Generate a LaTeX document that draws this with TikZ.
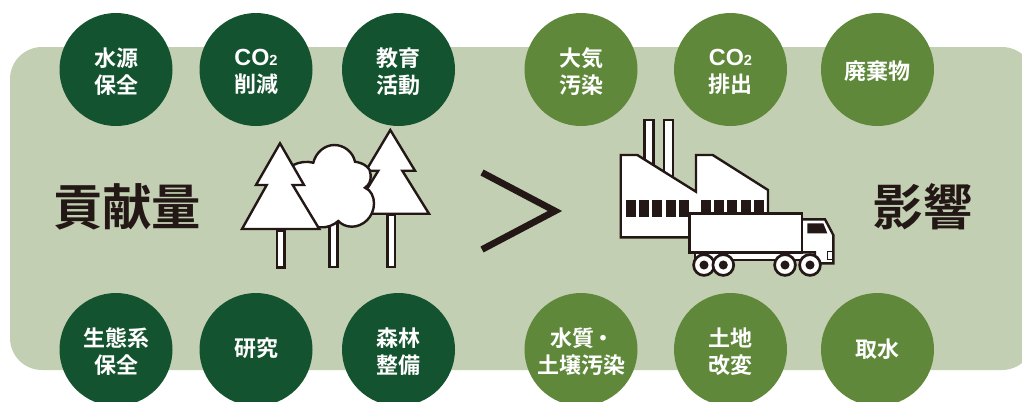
\documentclass[tikz,border=0pt]{standalone}
\usepackage{fontspec}
\setmainfont{Noto Sans CJK JP}[BoldFont={Noto Sans CJK JP Bold}]
\newfontfamily\latinf{Liberation Sans}[BoldFont={Liberation Sans Bold}]
\definecolor{panelc}{HTML}{C2CFB2}
\definecolor{darkg}{HTML}{14532F}
\definecolor{lightg}{HTML}{5F883A}
\definecolor{inkc}{HTML}{231815}
\newcommand{\cotwo}{{\latinf\fontsize{17.5}{20}\selectfont CO\raisebox{-0.3pt}{\fontsize{11}{11}\selectfont 2}}}
% #1 style, #2 name, #3 centre, #4 text drop in px, #5 text
\newcommand{\mybadge}[5]{%
  \node[#1] (#2) at #3 {};
  \node[badgetext] (#2text) at ([yshift=-#4*0.75pt]#2.center) {#5};
}
\tikzset{
  badge/.style={circle,minimum size=113*0.75pt,inner sep=0pt},
  badgetext/.style={inner sep=0pt,text=white,align=center,font=\bfseries\fontsize{16.5}{20.2}\selectfont},
  darkbadge/.style={badge,fill=darkg},
  lightbadge/.style={badge,fill=lightg},
  title/.style={text=inkc,font=\bfseries\fontsize{37}{40}\selectfont,inner sep=0pt},
  ink/.style={draw=inkc,line width=1.8pt,fill=white,line join=miter},
  thin/.style={draw=inkc,line width=1.4pt,fill=white},
  win/.style={fill=inkc},
}
\begin{document}
\begin{tikzpicture}[x=0.75pt,y=-0.75pt]
\useasboundingbox (0,0) rectangle (1022,401);
\clip (0,0) rectangle (1022,401);
\fill[panelc,rounded corners=24pt] (10,47) rectangle (1034,370);
% badges
\mybadge{darkbadge}{a1}{(116,69.5)}{2}{水源\\保全}
\mybadge{darkbadge}{a2}{(256,69.5)}{2}{\cotwo\\削減}
\mybadge{darkbadge}{a3}{(398.5,69.5)}{2}{教育\\活動}
\mybadge{lightbadge}{b1}{(581,69.5)}{2}{大気\\汚染}
\mybadge{lightbadge}{b2}{(730.5,69.5)}{2}{\cotwo\\排出}
\mybadge{lightbadge}{b3}{(877.5,69.5)}{1.5}{廃棄物}
\mybadge{darkbadge}{c1}{(116,349.5)}{2}{生態系\\保全}
\mybadge{darkbadge}{c2}{(256,349.5)}{-1}{研究}
\mybadge{darkbadge}{c3}{(398.5,349.5)}{2}{森林\\整備}
\mybadge{lightbadge}{d1}{(581,349.5)}{2}{水質\kern-2pt・\kern-2pt\\土壌汚染}
\mybadge{lightbadge}{d2}{(730.5,349.5)}{2}{土地\\改変}
\mybadge{lightbadge}{d3}{(877.5,349.5)}{0}{取水}
% titles
\node[title] (t1) at (127,207) {貢献量};
\node[title] (t2) at (923,207) {影響};
% greater-than sign
\draw[inkc,line width=5pt,line join=miter] (482,172.5) -- (555,211) -- (482,249.5);
% right tree
\draw[ink] (387.3,215) rectangle (395,266.7);
\draw[ink] (390.3,130) -- (415,170.7) -- (402.3,170.7) -- (429,213.7) -- (352,213.7) -- (378.3,170.7) -- (366,170.7) -- cycle;
% middle tree
\draw[ink] (329.3,215) rectangle (337.3,266.7);
\draw[ink] (293.3,165) .. controls (299,162) and (307,161) .. (313.3,162.7)
  .. controls (316,152) and (325,145) .. (334.3,145)
  .. controls (344,145) and (353,152) .. (355,161.7)
  .. controls (364,163) and (371,168) .. (370.7,175)
  .. controls (371,181) and (369,185) .. (365,187.7)
  .. controls (371,190) and (374,197) .. (374,203.3)
  .. controls (374,217) and (363,226.7) .. (351.7,226.7)
  .. controls (346,226.7) and (341,224) .. (338.3,221)
  .. controls (334,225) and (327,228) .. (320,227.3)
  -- (285,222) -- cycle;
% left tree
\draw[ink] (276.7,231) rectangle (284.3,267.3);
\draw[ink] (280,143.3) -- (304,185) -- (292.7,185) -- (319.3,229) -- (242,229) -- (266.7,185) -- (256,185) -- cycle;
% chimneys
\draw[ink] (644.3,120) rectangle (653.3,170);
\draw[ink] (663.7,120) rectangle (672.7,180);
% factory
\draw[ink] (620.7,155) -- (637.3,155) -- (696,191.7) -- (696,155) -- (712.7,155) -- (768,190) -- (768,225) -- (720,237.3) -- (620.7,237.3) -- cycle;
\foreach \xa in {626,639.3,652.3,666,679,701,714.3,727.3,741,754}
  \fill[win] (\xa,200) rectangle ++(10,16.7);
% chassis
\draw[thin] (695,250) rectangle (820,260);
% cab
\draw[ink] (801.7,219.3) -- (825,219.3) -- (833.3,235) -- (833.3,263.3) -- (815,263.3) -- (815,252.3) -- (801.7,252.3) -- cycle;
\fill[win] (807.3,223.3) -- (823.3,223.3) -- (827.3,233.3) -- (807.3,233.3) -- cycle;
\draw[draw=inkc,line width=1pt,fill=white] (827.7,251.7) rectangle (833,259.3);
% box
\draw[ink] (689.3,213.3) rectangle (801.7,252.3);
% wheels
\foreach \xa in {704,723.3,785,810}{
  \draw[draw=inkc,line width=2pt,fill=white] (\xa,265) circle[radius=7.8pt];
  \fill[win] (\xa,265) circle[radius=3.4pt];
}
\end{tikzpicture}
\end{document}
